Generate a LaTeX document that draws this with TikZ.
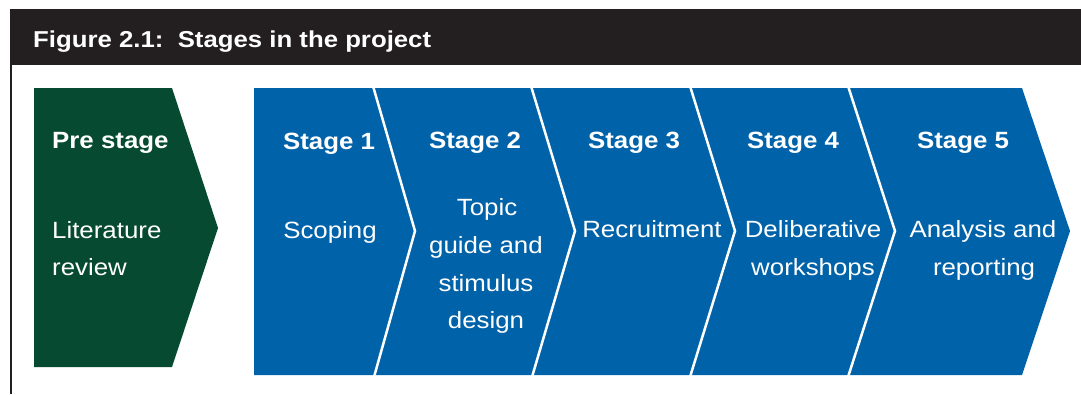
\documentclass[tikz,border=0pt]{standalone}
\usepackage{fontspec}
\setmainfont{Liberation Sans}
\newfontfamily\bodyfont[FakeStretch=1.1]{Liberation Sans}
\newfontfamily\titlefont[FakeStretch=1.12]{Liberation Sans}
\definecolor{hdrblack}{HTML}{231F20}
\definecolor{pregreen}{HTML}{064B31}
\definecolor{stblue}{HTML}{0062A8}
\begin{document}
\begin{tikzpicture}[x=1pt,y=-1pt,
  lbl/.style={text=white, inner sep=0pt, anchor=base, font=\fontsize{23.5}{28}\bodyfont},
  hd/.style={text=white, inner sep=0pt, anchor=base, font=\fontsize{23.5}{28}\bodyfont\bfseries},
  sep/.style={draw=white, line width=2.5pt, line join=miter}]
\useasboundingbox (0,0) rectangle (1081,394);
\fill[white] (0,0) rectangle (1081,394);
% header
\fill[hdrblack] (10,8.5) rectangle (1081,65);
\fill[hdrblack] (10,65) rectangle (12,394);
\node[anchor=base west, text=white, inner sep=0pt, font=\fontsize{23}{27}\titlefont\bfseries] (title) at (33,47) {Figure 2.1:\ \ Stages in the project};
% pre stage
\fill[pregreen] (34,88) -- (172,88) -- (218,228) -- (172,367) -- (34,367) -- cycle;
% stages
\fill[stblue] (254,88) -- (1022,88) -- (1070,231) -- (1022,375) -- (254,375) -- cycle;
\draw[sep] (373,86) -- (415,231) -- (374,377);
\draw[sep] (531,86) -- (575,231) -- (532,377);
\draw[sep] (690,86) -- (735,231) -- (690,377);
\draw[sep] (848,86) -- (895,231) -- (848,377);
% texts
\node[hd, anchor=base west] (pre) at (52,148) {Pre stage};
\node[lbl, anchor=base west] (pre1) at (52,238) {Literature};
\node[lbl, anchor=base west] (pre2) at (52,275) {review};
\node[hd] (s1) at (329,149) {Stage 1};
\node[lbl] (s1a) at (330,238) {Scoping};
\node[hd] (s2) at (475,148) {Stage 2};
\node[lbl] (s2a) at (487,215) {Topic};
\node[lbl] (s2b) at (486,253) {guide and};
\node[lbl] (s2c) at (486,291) {stimulus};
\node[lbl] (s2d) at (486,328) {design};
\node[hd] (s3) at (634,148) {Stage 3};
\node[lbl] (s3a) at (652,237) {Recruitment};
\node[hd] (s4) at (793,148) {Stage 4};
\node[lbl] (s4a) at (813,237) {Deliberative};
\node[lbl] (s4b) at (813,275) {workshops};
\node[hd] (s5) at (963,148) {Stage 5};
\node[lbl] (s5a) at (983,237) {Analysis and};
\node[lbl] (s5b) at (984,275) {reporting};
\end{tikzpicture}
\end{document}
